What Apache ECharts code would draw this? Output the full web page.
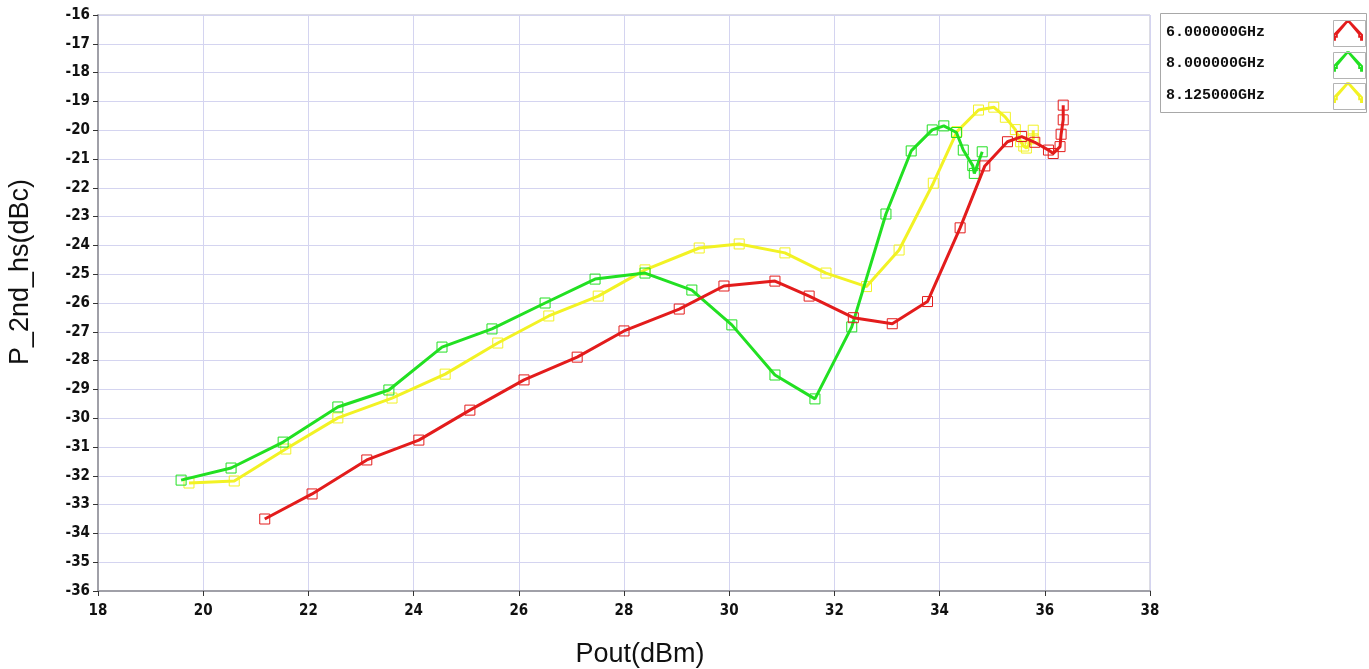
<!DOCTYPE html>
<html>
<head>
<meta charset="utf-8">
<script src="https://cdn.jsdelivr.net/npm/echarts@6/dist/echarts.min.js"></script>
<style>
html,body{margin:0;padding:0;background:#fff;}
#chart{width:1369px;height:669px;}
</style>
</head>
<body>
<div id="chart"></div>
<script>
const seriesNames = ['6.000000GHz', '8.000000GHz', '8.125000GHz'];
const seriesColors = ['#e31c1c', '#22e022', '#f2f224'];

const red6x = [21.17, 22.07, 23.11, 24.10, 25.07, 26.10, 27.11, 28.00, 29.05, 29.90, 30.87, 31.52, 32.36, 33.10, 33.77, 34.39, 34.86, 35.29, 35.56, 35.81, 36.07, 36.16, 36.29, 36.31, 36.35, 36.35];
const red6y = [-33.50, -32.63, -31.45, -30.76, -29.72, -28.67, -27.88, -26.97, -26.21, -25.41, -25.24, -25.76, -26.51, -26.72, -25.95, -23.39, -21.24, -20.40, -20.22, -20.42, -20.69, -20.81, -20.57, -20.14, -19.64, -19.13];

const green8x = [19.58, 20.53, 21.52, 22.56, 23.53, 24.54, 25.49, 26.50, 27.45, 28.40, 29.29, 30.05, 30.87, 31.63, 32.33, 32.98, 33.46, 33.86, 34.08, 34.32, 34.45, 34.63, 34.66, 34.81];
const green8y = [-32.15, -31.73, -30.83, -29.61, -29.02, -27.53, -26.90, -26.00, -25.17, -24.96, -25.55, -26.76, -28.50, -29.33, -26.83, -22.91, -20.72, -19.99, -19.85, -20.08, -20.69, -21.23, -21.50, -20.75];

const yel8x = [19.73, 20.59, 21.57, 22.56, 23.59, 24.60, 25.60, 26.57, 27.51, 28.40, 29.43, 30.19, 31.06, 31.84, 32.61, 33.23, 33.88, 34.33, 34.74, 35.03, 35.25, 35.44, 35.54, 35.60, 35.65, 35.78, 35.78];
const yel8y = [-32.25, -32.18, -31.07, -29.99, -29.30, -28.47, -27.39, -26.45, -25.76, -24.85, -24.09, -23.95, -24.26, -24.96, -25.43, -24.16, -21.84, -20.05, -19.30, -19.20, -19.55, -19.98, -20.40, -20.55, -20.62, -20.30, -20.00];

const xMin = 18, xMax = 38, xStep = 2;
const yMin = -36, yMax = -16, yStep = 1;

function pairs(xs, ys) { return xs.map((x, i) => [x, ys[i]]); }
const seriesData = [pairs(red6x, red6y), pairs(green8x, green8y), pairs(yel8x, yel8y)];

const legendIcon = 'path://M0,20 L1,20 L1,17 L3,17 L3,14 L14,1 L16,1 L27,14 L27,17 L29,17 L29,20 L30,20 L30,15 L16,0 L14,0 L0,15 Z';

const chart = echarts.init(document.getElementById('chart'), null, {renderer: 'canvas'});

const iconBox = (y) => ({
  type: 'rect', left: 1331, top: y, z: 100,
  shape: {width: 32, height: 26},
  style: {fill: 'none', stroke: '#b4b4b4', lineWidth: 1}
});

const legendCommon = {
  data: seriesNames,
  orient: 'vertical',
  padding: 0,
  z: 10
};

const option = {
  backgroundColor: '#ffffff',
  animation: false,
  grid: {
    left: 98, top: 15, right: 219, bottom: 78, outerBoundsMode: 'none',
    show: true, borderColor: '#b8b8c8', borderWidth: 1, backgroundColor: 'transparent'
  },
  graphic: [
    {type: 'rect', left: 1160, top: 13, z: 1, shape: {width: 206, height: 99},
     style: {fill: '#ffffff', stroke: '#a8a8a8', lineWidth: 1}},
    iconBox(18), iconBox(50), iconBox(81)
  ],
  legend: [
    Object.assign({}, legendCommon, {
      left: 1161, top: 21,
      icon: 'none', itemWidth: 0, itemHeight: 22, itemGap: 13,
      itemStyle: {opacity: 0}, lineStyle: {opacity: 0},
      textStyle: {fontFamily: 'Liberation Mono', fontSize: 15, fontWeight: 'bold', color: '#111'}
    }),
    Object.assign({}, legendCommon, {
      left: 1333, top: 20,
      icon: legendIcon, itemWidth: 28, itemHeight: 20, itemGap: 10.5,
      formatter: () => '',
      textStyle: {fontSize: 1}
    })
  ],
  xAxis: {
    type: 'value', min: xMin, max: xMax, interval: xStep,
    name: 'Pout(dBm)', nameLocation: 'middle', nameGap: 50,
    nameTextStyle: {fontFamily: 'Liberation Sans', fontSize: 27, color: '#111', padding: [0, 0, 0, 32]},
    axisLine: {show: true, lineStyle: {color: '#a0a0a8', width: 2}},
    axisTick: {show: true, length: 5, lineStyle: {color: '#333'}},
    axisLabel: {fontFamily: 'DejaVu Sans Condensed', fontWeight: 'bold', fontSize: 15, color: '#111', margin: 13},
    splitLine: {show: true, lineStyle: {color: '#d4d4f0', width: 1}}
  },
  yAxis: {
    type: 'value', min: yMin, max: yMax, interval: yStep,
    name: 'P_2nd_hs(dBc)', nameLocation: 'middle', nameGap: 64, nameRotate: 90,
    nameTextStyle: {fontFamily: 'Liberation Sans', fontSize: 27, color: '#111', padding: [0, 0, 0, 62]},
    axisLine: {show: true, lineStyle: {color: '#a0a0a8', width: 2}},
    axisTick: {show: true, length: 5, lineStyle: {color: '#333'}},
    axisLabel: {fontFamily: 'DejaVu Sans Condensed', fontWeight: 'bold', fontSize: 15, color: '#111', margin: 8},
    splitLine: {show: true, lineStyle: {color: '#d4d4f0', width: 1}}
  },
  series: seriesNames.map((name, i) => ({
    name: name,
    type: 'line',
    data: seriesData[i],
    color: seriesColors[i],
    lineStyle: {width: 3, color: seriesColors[i]},
    symbol: 'rect', symbolSize: 10,
    showAllSymbol: true,
    itemStyle: {color: 'rgba(255,255,255,0)', borderColor: seriesColors[i], borderWidth: 1},
    z: 3 - i
  }))
};
chart.setOption(option);
</script>
</body>
</html>
